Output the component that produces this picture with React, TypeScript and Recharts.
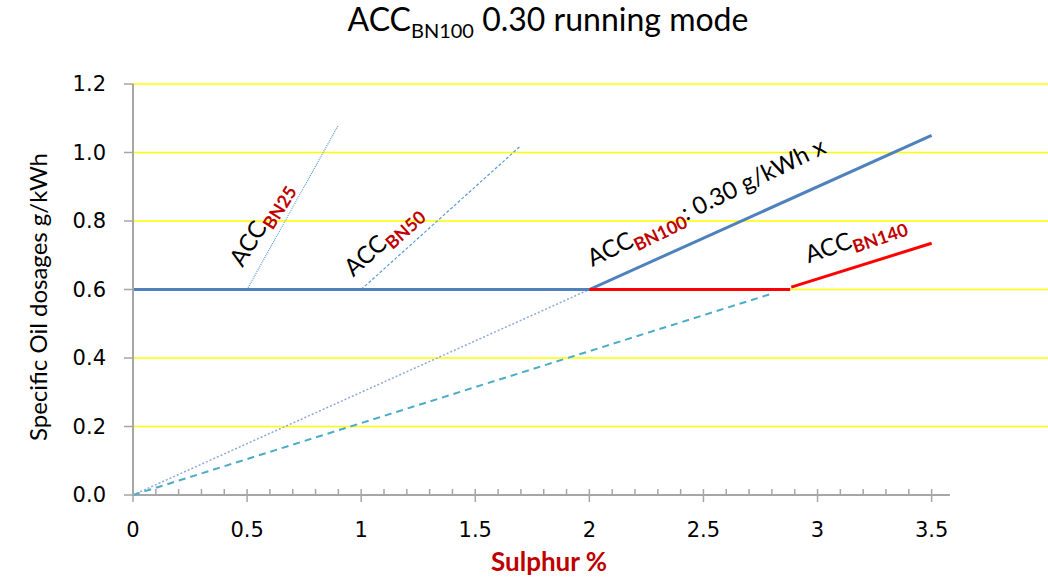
import { LineChart, Line, XAxis, YAxis, ReferenceLine, ReferenceDot } from 'recharts';

// lines, in (sulphur %, g/kWh)
const bn100Main = [{ x: 0, y: 0.6 }, { x: 2, y: 0.6 }, { x: 3.5, y: 1.05 }];
const bn140Flat = [{ x: 2, y: 0.6 }, { x: 2.88, y: 0.6 }];
const bn140Rise = [{ x: 2.885, y: 0.607 }, { x: 3.5, y: 0.735 }];
const bn140Guide = [{ x: 0, y: 0 }, { x: 2.8, y: 0.588 }];
const bn100Guide = [{ x: 0, y: 0 }, { x: 2, y: 0.6 }];
const bn25Guide = [{ x: 0.5, y: 0.6 }, { x: 0.9, y: 1.08 }];
const bn50Guide = [{ x: 1, y: 0.6 }, { x: 1.7, y: 1.02 }];

const xTicks = [
  0, 0.1, 0.2, 0.3, 0.4, 0.5, 0.6, 0.7, 0.8, 0.9, 1, 1.1, 1.2, 1.3, 1.4, 1.5, 1.6, 1.7,
  1.8, 1.9, 2, 2.1, 2.2, 2.3, 2.4, 2.5, 2.6, 2.7, 2.8, 2.9, 3, 3.1, 3.2, 3.3, 3.4, 3.5,
];
const xLabels = [0, 0.5, 1, 1.5, 2, 2.5, 3, 3.5];
const yTicks = [0, 0.2, 0.4, 0.6, 0.8, 1.0, 1.2];
const gridValues = [0.2, 0.4, 0.6, 0.8, 1.0, 1.2];

const notes = [
  { x: 0.48, y: 0.663, sub: 'BN25', tail: '', angle: -58 },
  { x: 0.965, y: 0.635, sub: 'BN50', tail: '', angle: -42 },
  { x: 2.013, y: 0.666, sub: 'BN100', tail: ':  0.30 g/kWh x', angle: -26 },
  { x: 2.96, y: 0.677, sub: 'BN140', tail: '', angle: -19 },
];

const FONT = 'Lato, "Open Sans", sans-serif';
const TICK_FONT = '"DejaVu Sans", sans-serif';
const AXIS = '#A6A6A6';

const XTick = (p: any) => {
  const v = p.payload.value;
  const major = xLabels.includes(v);
  return (
    <g>
      <line x1={p.x} x2={p.x} y1={p.y - 6} y2={major ? p.y + 7 : p.y} stroke={AXIS} strokeWidth={1.5} />
      {major && (
        <text x={p.x} y={p.y + 42} textAnchor="middle" fontSize={21} fontFamily={TICK_FONT} fill="#000">
          {String(v)}
        </text>
      )}
    </g>
  );
};

const noteShape = (n: (typeof notes)[number]) => (p: any) => (
  <text transform={`translate(${p.cx},${p.cy}) rotate(${n.angle})`} fontFamily={FONT} fontSize={24} fill="#000">
    <tspan>ACC</tspan>
    <tspan dy={6} fontSize={18} fontWeight="bold" fill="#C00000">{n.sub}</tspan>
    {n.tail ? <tspan dy={-6}>{n.tail}</tspan> : null}
  </text>
);

export default function App() {
  return (
    <div style={{ position: 'relative', width: 1048, height: 577, background: '#fff', fontFamily: FONT }}>
      <style>{'body{margin:0}'}</style>
      <div style={{ position: 'absolute', top: 0, left: 24, width: 1048, textAlign: 'center', fontSize: 32, lineHeight: 1.2, color: '#000' }}>
        ACC<span style={{ fontSize: 20, position: 'relative', top: 7 }}>BN100</span> 0.30 running mode
      </div>
      <div
        style={{
          position: 'absolute', left: 37, top: 297, transform: 'translate(-50%,-50%) rotate(-90deg)',
          whiteSpace: 'nowrap', fontSize: 24, color: '#000',
        }}
      >
        Specific Oil dosages g/kWh
      </div>
      <div
        style={{
          position: 'absolute', left: 549, top: 561, transform: 'translate(-50%,-50%)',
          fontSize: 26, lineHeight: 1, whiteSpace: 'nowrap', fontWeight: 'bold', color: '#C00000',
        }}
      >
        Sulphur %
      </div>
      <LineChart width={1048} height={577} margin={{ top: 84, right: 0, bottom: 22, left: 33 }} style={{ position: 'absolute', top: 0, left: 0 }}>
        <XAxis
          type="number"
          dataKey="x"
          domain={[0, 4.01]}
          ticks={xTicks}
          interval={0}
          tick={<XTick />}
          tickLine={false}
          axisLine={false}
          tickSize={0}
          tickMargin={0}
          height={60}
          allowDataOverflow
        />
        <YAxis
          type="number"
          dataKey="y"
          domain={[0, 1.2]}
          ticks={yTicks}
          interval={0}
          tickFormatter={(v: number) => v.toFixed(1)}
          tick={{ fontSize: 21, fill: '#000', fontFamily: TICK_FONT }}
          tickSize={9}
          tickMargin={18}
          tickLine={{ stroke: AXIS, strokeWidth: 1.5 }}
          axisLine={{ stroke: AXIS, strokeWidth: 2 }}
          width={100}
        />
        {gridValues.map((g) => (
          <ReferenceLine key={g} y={g} stroke="#FFFF00" strokeWidth={1.5} />
        ))}
        <ReferenceLine segment={[{ x: 0, y: 0 }, { x: 3.58, y: 0 }]} stroke={AXIS} strokeWidth={2} />
        <Line data={bn25Guide} dataKey="y" stroke="#5B9BD5" strokeWidth={1.2} strokeDasharray="1 1" dot={false} isAnimationActive={false} />
        <Line data={bn50Guide} dataKey="y" stroke="#5B9BD5" strokeWidth={1.2} strokeDasharray="3 2" dot={false} isAnimationActive={false} />
        <Line data={bn100Guide} dataKey="y" stroke="#8EA9DB" strokeWidth={1.5} strokeDasharray="2 2" dot={false} isAnimationActive={false} />
        <Line data={bn140Guide} dataKey="y" stroke="#4BACC6" strokeWidth={2} strokeDasharray="7 5" dot={false} isAnimationActive={false} />
        <Line data={bn100Main} dataKey="y" stroke="#4F81BD" strokeWidth={3} dot={false} isAnimationActive={false} />
        <Line data={bn140Flat} dataKey="y" stroke="#FF0000" strokeWidth={3} dot={false} isAnimationActive={false} />
        <Line data={bn140Rise} dataKey="y" stroke="#FF0000" strokeWidth={3} dot={false} isAnimationActive={false} />
        {notes.map((n) => (
          <ReferenceDot key={n.sub} x={n.x} y={n.y} r={0} shape={noteShape(n)} ifOverflow="visible" />
        ))}
      </LineChart>
    </div>
  );
}
